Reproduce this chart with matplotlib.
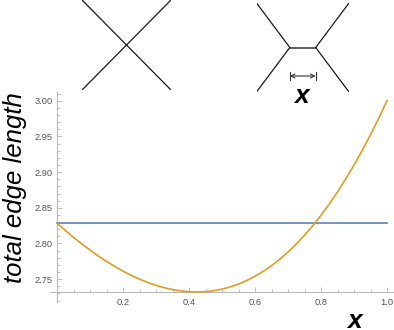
import numpy as np
import matplotlib
matplotlib.use("Agg")
from matplotlib import pyplot as plt
from matplotlib.ticker import MultipleLocator, FixedLocator, FormatStrFormatter

plt.rcParams['font.family'] = ['Liberation Sans', 'DejaVu Sans']

# edge length of the Steiner-type network vs. length x of the middle segment
x_vals = [0.000, 0.025, 0.050, 0.075, 0.100, 0.125, 0.150, 0.175, 0.200,
          0.225, 0.250, 0.275, 0.300, 0.325, 0.350, 0.375, 0.400, 0.425,
          0.450, 0.475, 0.500, 0.525, 0.550, 0.575, 0.600, 0.625, 0.650,
          0.675, 0.700, 0.725, 0.750, 0.775, 0.800, 0.825, 0.850, 0.875,
          0.900, 0.925, 0.950, 0.975, 1.000]
steiner_len = [2.8284, 2.8183, 2.8086, 2.7994, 2.7907, 2.7825, 2.7749, 2.7678,
               2.7612, 2.7553, 2.7500, 2.7453, 2.7413, 2.7380, 2.7354, 2.7335,
               2.7324, 2.7321, 2.7325, 2.7339, 2.7361, 2.7392, 2.7432, 2.7481,
               2.7541, 2.7610, 2.7690, 2.7780, 2.7881, 2.7993, 2.8116, 2.8250,
               2.8396, 2.8554, 2.8724, 2.8906, 2.9100, 2.9306, 2.9525, 2.9756,
               3.0000]
# plain X (both diagonals)
cross_x = [0.0, 1.0]
cross_len = [2.8284, 2.8284]

x_ticks = [0.2, 0.4, 0.6, 0.8, 1.0]
y_ticks = [2.75, 2.80, 2.85, 2.90, 2.95, 3.00]

# sketches drawn in a unit square
corners = [(0, 1), (1, 1), (0, 0), (1, 0)]
seg_len = 0.28

orange = '#E19C24'
blue = '#5E81B5'
axis_grey = '#b8b8b8'

fig = plt.figure(figsize=(3.94, 3.30), dpi=100)

ax = fig.add_axes([0.128, 0.0848, 0.8695, 0.636])
ax.plot(cross_x, cross_len, color=blue, lw=1.2, zorder=3)
ax.plot(x_vals, steiner_len, color=orange, lw=1.2, zorder=4)

ax.set_xlim(-0.02, 1.018)
ax.set_ylim(2.718, 3.012)
for s in ['top', 'right']:
    ax.spines[s].set_visible(False)
ax.spines['left'].set_position(('data', 0))
ax.spines['bottom'].set_position(('data', min(steiner_len)))
for s in ['left', 'bottom']:
    ax.spines[s].set_color(axis_grey)
    ax.spines[s].set_linewidth(0.8)

ax.xaxis.set_major_locator(FixedLocator(x_ticks))
ax.xaxis.set_minor_locator(MultipleLocator(0.05))
ax.yaxis.set_major_locator(FixedLocator(y_ticks))
ax.yaxis.set_minor_locator(MultipleLocator(0.01))
ax.xaxis.set_major_formatter(FormatStrFormatter('%.1f'))
ax.yaxis.set_major_formatter(FormatStrFormatter('%.2f'))
ax.tick_params(which='both', direction='in', color=axis_grey, width=0.6,
               labelsize=6.7, labelcolor='#555555')
ax.tick_params(which='major', length=3.5)
ax.tick_params(which='minor', length=2)
ax.tick_params(axis='y', pad=3)
ax.tick_params(axis='x', pad=4)

fig.text(15 / 394, 1 - 188 / 330, 'total edge length', rotation=90,
         ha='center', va='center', fontsize=18.5, style='italic')
fig.text(354.5 / 394, 1 - 320.5 / 330, 'x', ha='center', va='center',
         fontsize=19, style='italic', weight='bold')

# left sketch: four corners joined at the centre
d1 = fig.add_axes([82 / 394, 1 - 90 / 330, 89 / 394, 90 / 330])
for cx, cy in corners:
    d1.plot([cx, 0.5], [cy, 0.5], color='#1a1a1a', lw=0.9)
d1.set_xlim(0, 1)
d1.set_ylim(0, 1)
d1.axis('off')

# right sketch: two junctions joined by a segment of length x
d2 = fig.add_axes([256.5 / 394, 1 - 92 / 330, 92.5 / 394, 89 / 330])
jl = (0.5 - seg_len / 2, 0.5)
jr = (0.5 + seg_len / 2, 0.5)
for cx, cy in corners:
    j = jl if cx == 0 else jr
    d2.plot([cx, j[0]], [cy, j[1]], color='#1a1a1a', lw=0.9)
d2.plot([jl[0], jr[0]], [jl[1], jr[1]], color='#333333', lw=1.1)
ya = 0.18
d2.annotate('', xy=(jr[0], ya), xytext=(jl[0], ya),
            arrowprops=dict(arrowstyle='<->', color='#333333', lw=0.8,
                            shrinkA=0, shrinkB=0, mutation_scale=7))
for xb in [jl[0], jr[0]]:
    d2.plot([xb, xb], [ya - 0.04, ya + 0.04], color='#333333', lw=0.8)
d2.text(0.49, -0.045, 'x', ha='center', va='center', fontsize=19,
        style='italic', weight='bold', clip_on=False)
d2.set_xlim(0, 1)
d2.set_ylim(0, 1)
d2.axis('off')

fig.savefig('out.png', dpi=100)
